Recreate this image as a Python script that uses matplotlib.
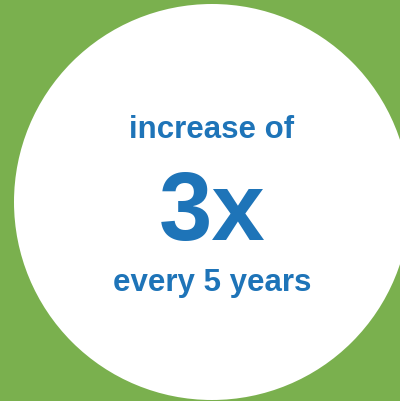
import matplotlib
matplotlib.use('Agg')
import matplotlib.pyplot as plt
from matplotlib.patches import Circle

# text content of the badge
lines = ['increase of', '3x', 'every 5 years']
sizes = [22.5, 69, 22.5]          # points
baselines = [138, 240, 291]       # pixel rows

green = '#7AB04E'
blue = '#1E74B8'

fig = plt.figure(figsize=(4.0, 4.01), dpi=100)
fig.patch.set_facecolor(green)
ax = fig.add_axes([0, 0, 1, 1])
ax.set_xlim(0, 400)
ax.set_ylim(401, 0)
ax.set_aspect('equal')
ax.axis('off')

ax.add_patch(Circle((212, 202), 198, facecolor='white', edgecolor='none'))

for txt, sz, y in zip(lines, sizes, baselines):
    ax.text(212, y, txt, ha='center', va='baseline', fontsize=sz,
            fontweight='bold', color=blue, family=['Liberation Sans', 'DejaVu Sans'])

fig.savefig('out.png', dpi=100, facecolor=green)
